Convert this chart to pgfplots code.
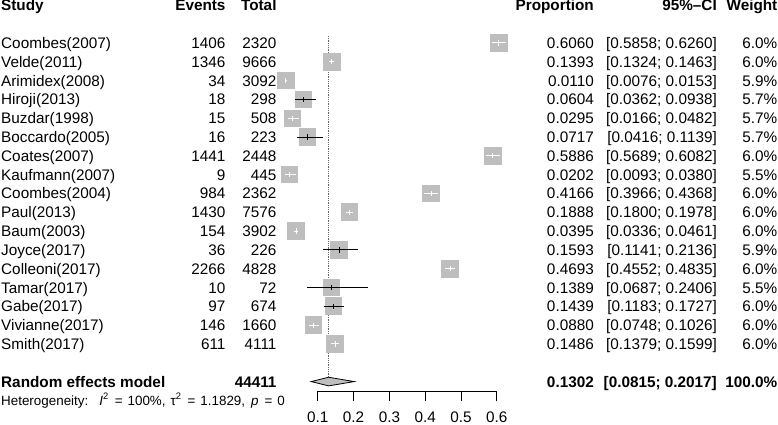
\documentclass[border=0pt]{standalone}
\usepackage{pgfplots}
\pgfplotsset{compat=1.18}
\usepackage{pgfplotstable}
\usepackage{fontspec}
\setmainfont{Liberation Sans}
\definecolor{sqgray}{HTML}{BEBEBE}
\newcommand\fs{\fontsize{15.3}{18}\selectfont}
\newcommand\fh{\fontsize{13.4}{16}\selectfont}
\tikzset{txt/.style={font=\fs, yshift=-5.5pt, inner sep=0pt}}

% estimate, CI bounds, weight (%), CI inside square (1) or not (0)
\pgfplotstableread{
prop   lo     hi     w   inside
0.6060 0.5858 0.6260 6.0 1
0.1393 0.1324 0.1463 6.0 1
0.0110 0.0076 0.0153 5.9 1
0.0604 0.0362 0.0938 5.7 0
0.0295 0.0166 0.0482 5.7 1
0.0717 0.0416 0.1139 5.7 0
0.5886 0.5689 0.6082 6.0 1
0.0202 0.0093 0.0380 5.5 1
0.4166 0.3966 0.4368 6.0 1
0.1888 0.1800 0.1978 6.0 1
0.0395 0.0336 0.0461 6.0 1
0.1593 0.1141 0.2136 5.9 0
0.4693 0.4552 0.4835 6.0 1
0.1389 0.0687 0.2406 5.5 0
0.1439 0.1183 0.1727 6.0 0
0.0880 0.0748 0.1026 6.0 1
0.1486 0.1379 0.1599 6.0 1
}\datatable

\newcommand\trow[7]{%
  \node[txt,anchor=base west] at (axis cs:-0.7849,-#1) {#2};
  \node[txt,anchor=base east] at (axis cs:-0.1573,-#1) {#3};
  \node[txt,anchor=base east] at (axis cs:-0.0148,-#1) {#4};
  \node[txt,anchor=base east] at (axis cs:0.8715,-#1) {#5};
  \node[txt,anchor=base east] at (axis cs:1.2151,-#1) {#6};
  \node[txt,anchor=base east] at (axis cs:1.3841,-#1) {#7};
}

\begin{document}
\begin{tikzpicture}
\begin{axis}[
  x=358pt, y=18.81pt,
  xmin=0.1, xmax=0.6, ymin=-19.5, ymax=0,
  scale only axis, clip=false, clip marker paths=true,
  axis x line*=bottom, hide y axis,
  xtick={0.1,0.2,0.3,0.4,0.5,0.6},
  tick align=outside, major tick length=10.5pt,
  axis line style={black, line width=0.9pt},
  x tick style={black, line width=0.9pt},
  xticklabel style={font=\fs, yshift=-6.5pt},
  /pgf/number format/assume math mode=true,
]
% reference line at the pooled estimate
\addplot[densely dotted, line width=0.8pt, black!60] coordinates {(0.1302,-0.63) (0.1302,-18.77)};

% squares
\addplot[scatter, only marks, mark=square*,
  scatter/use mapped color={draw=sqgray, fill=sqgray},
  mark options={draw=sqgray, fill=sqgray, line width=0pt},
  visualization depends on={8.4*sqrt(\thisrow{w}/6.0) \as \msz},
  scatter/@pre marker code/.append style={/tikz/mark size=\msz}]
  table[x=prop, y expr=-\coordindex-1] \datatable;

% CI lines: black (wider than square)
\addplot[only marks, mark=|, mark size=2.6pt, mark options={black, line width=1pt},
  x filter/.expression={\thisrow{inside}>0.5 ? nan : x}, unbounded coords=discard,
  error bars/.cd, x dir=both, x explicit, error mark=none,
  error bar style={black, line width=1pt}]
  table[x=prop, y expr=-\coordindex-1,
        x error minus expr=\thisrow{prop}-\thisrow{lo},
        x error plus expr=\thisrow{hi}-\thisrow{prop}] \datatable;

% CI lines: white (inside square)
\addplot[only marks, mark=|, mark size=2.6pt, mark options={white, line width=1pt},
  x filter/.expression={\thisrow{inside}>0.5 ? x : nan}, unbounded coords=discard,
  error bars/.cd, x dir=both, x explicit, error mark=none,
  error bar style={white, line width=1pt}]
  table[x=prop, y expr=-\coordindex-1,
        x error minus expr=\thisrow{prop}-\thisrow{lo},
        x error plus expr=\thisrow{hi}-\thisrow{prop}] \datatable;

% pooled diamond
\addplot[fill=sqgray, draw=black, line width=0.8pt] coordinates
  {(0.0815,-19) (0.1302,-18.77) (0.2017,-19) (0.1302,-19.23)} -- cycle;

% header
\trow{-1}{\bfseries Study}{\bfseries Events}{\bfseries Total}{\bfseries Proportion}{\bfseries 95\%–CI}{\bfseries Weight}
\trow{1}{Coombes(2007)}{1406}{2320}{0.6060}{[0.5858; 0.6260]}{6.0\%}
\trow{2}{Velde(2011)}{1346}{9666}{0.1393}{[0.1324; 0.1463]}{6.0\%}
\trow{3}{Arimidex(2008)}{34}{3092}{0.0110}{[0.0076; 0.0153]}{5.9\%}
\trow{4}{Hiroji(2013)}{18}{298}{0.0604}{[0.0362; 0.0938]}{5.7\%}
\trow{5}{Buzdar(1998)}{15}{508}{0.0295}{[0.0166; 0.0482]}{5.7\%}
\trow{6}{Boccardo(2005)}{16}{223}{0.0717}{[0.0416; 0.1139]}{5.7\%}
\trow{7}{Coates(2007)}{1441}{2448}{0.5886}{[0.5689; 0.6082]}{6.0\%}
\trow{8}{Kaufmann(2007)}{9}{445}{0.0202}{[0.0093; 0.0380]}{5.5\%}
\trow{9}{Coombes(2004)}{984}{2362}{0.4166}{[0.3966; 0.4368]}{6.0\%}
\trow{10}{Paul(2013)}{1430}{7576}{0.1888}{[0.1800; 0.1978]}{6.0\%}
\trow{11}{Baum(2003)}{154}{3902}{0.0395}{[0.0336; 0.0461]}{6.0\%}
\trow{12}{Joyce(2017)}{36}{226}{0.1593}{[0.1141; 0.2136]}{5.9\%}
\trow{13}{Colleoni(2017)}{2266}{4828}{0.4693}{[0.4552; 0.4835]}{6.0\%}
\trow{14}{Tamar(2017)}{10}{72}{0.1389}{[0.0687; 0.2406]}{5.5\%}
\trow{15}{Gabe(2017)}{97}{674}{0.1439}{[0.1183; 0.1727]}{6.0\%}
\trow{16}{Vivianne(2017)}{146}{1660}{0.0880}{[0.0748; 0.1026]}{6.0\%}
\trow{17}{Smith(2017)}{611}{4111}{0.1486}{[0.1379; 0.1599]}{6.0\%}
\trow{19}{\bfseries Random effects model}{}{\bfseries 44411}{\bfseries 0.1302}{\bfseries [0.0815; 0.2017]}{\bfseries 100.0\%}
\node[font=\fh, anchor=base west, inner sep=0pt, yshift=-4.8pt] at (axis cs:-0.7849,-20)
  {Heterogeneity:\hspace{11pt}\textit{I}\textsuperscript{2}\hspace{6pt}=\hspace{5pt}100\%,\hspace{5pt}τ\textsuperscript{2}\hspace{6pt}=\hspace{5pt}1.1829,\hspace{6pt}\textit{p}\hspace{6pt}=\hspace{5pt}0};

\coordinate (BL) at (axis cs:-0.78771,-21.308);
\coordinate (TR) at (axis cs:1.38547,1.286);
\end{axis}
\pgfresetboundingbox
\path (BL) rectangle (TR);
\end{tikzpicture}
\end{document}
